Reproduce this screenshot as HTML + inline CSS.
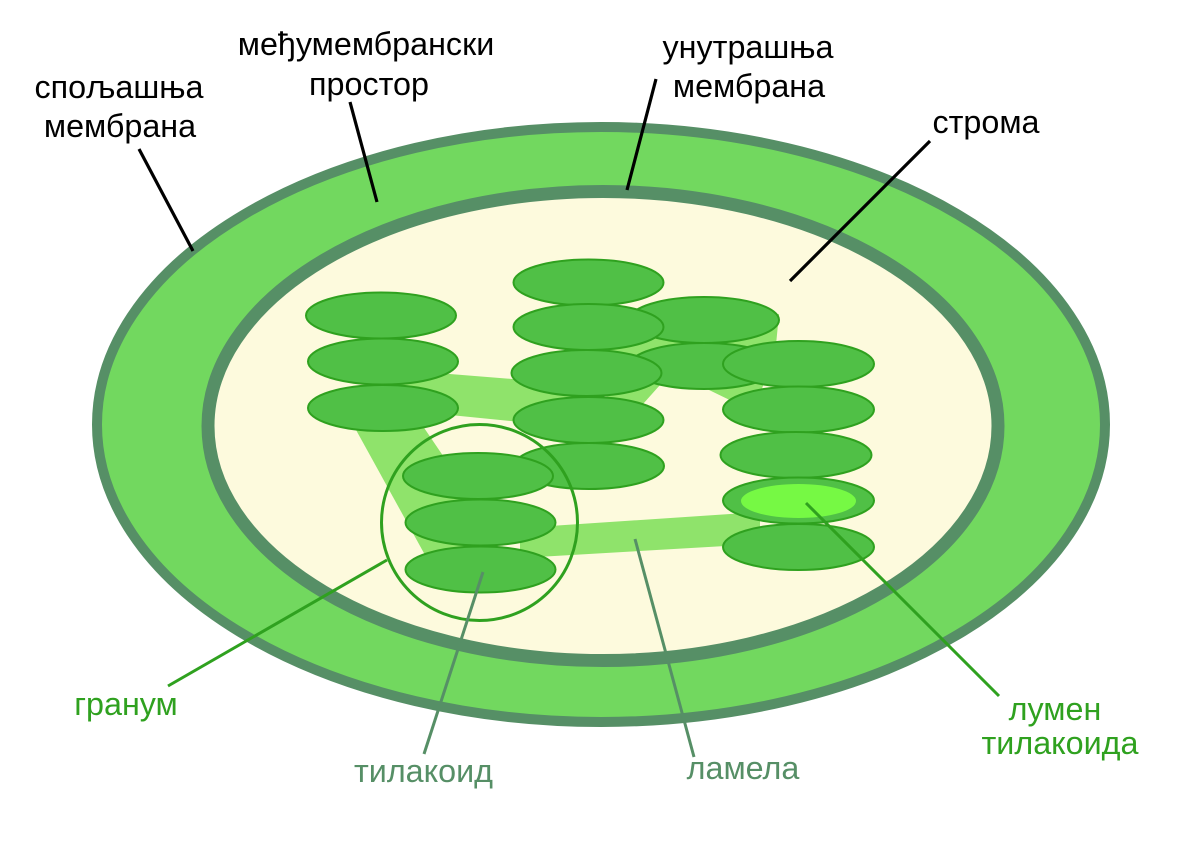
<!DOCTYPE html>
<html><head><meta charset="utf-8"><style>
html,body{margin:0;padding:0;background:#fff;}
svg{display:block;}
text{font-family:"Liberation Sans",Arial,sans-serif;font-size:32.3px;text-anchor:middle;}
</style></head><body>
<svg width="1200" height="849" viewBox="0 0 1200 849" xmlns="http://www.w3.org/2000/svg">
<rect width="1200" height="849" fill="#fff"/>
<!-- outer membrane -->
<ellipse cx="601" cy="424.5" rx="504" ry="297.5" fill="#72d85f" stroke="#568f66" stroke-width="10"/>
<!-- inner membrane / stroma -->
<ellipse cx="603" cy="426" rx="395" ry="234.5" fill="#fdfadd" stroke="#568f66" stroke-width="13"/>

<!-- lamellae -->
<g fill="#8fe36b">
<polygon points="400,370 600,386 600,430 400,410"/>
<polygon points="345,410 412,410 500,540 425,555"/>
<polygon points="520,528 760,512 760,544 520,558"/>
<polygon points="590,380 620,333 779,314 776,345 760,395 742,406 707,389 690,385 660,385 643,404 630,420"/>
</g>

<g fill="#50c046" stroke="#2fa11f" stroke-width="2">
<!-- stack 3 (behind) -->
<ellipse cx="704" cy="320" rx="75" ry="23"/>
<ellipse cx="704" cy="366" rx="75" ry="23"/>
<!-- stack 1 -->
<ellipse cx="381" cy="315.5" rx="75" ry="23"/>
<ellipse cx="383" cy="361.5" rx="75" ry="23"/>
<ellipse cx="383" cy="408" rx="75" ry="23"/>
<!-- stack 2 -->
<ellipse cx="588.5" cy="282.5" rx="75" ry="23"/>
<ellipse cx="588.5" cy="327" rx="75" ry="23"/>
<ellipse cx="586.5" cy="373" rx="75" ry="23"/>
<ellipse cx="588.5" cy="420" rx="75" ry="23"/>
<ellipse cx="589" cy="466" rx="75" ry="23"/>
<!-- stack 4 -->
<ellipse cx="798.5" cy="364" rx="75.5" ry="23"/>
<ellipse cx="798.5" cy="409.5" rx="75.5" ry="23"/>
<ellipse cx="796" cy="455" rx="75.5" ry="23"/>
<ellipse cx="798.5" cy="500.5" rx="75.5" ry="23"/>
<ellipse cx="798.5" cy="547" rx="75.5" ry="23"/>
<!-- circled stack -->
<ellipse cx="478" cy="476" rx="75" ry="23"/>
<ellipse cx="480.5" cy="522.5" rx="75" ry="23"/>
<ellipse cx="480.5" cy="569.5" rx="75" ry="23"/>
</g>
<!-- lumen -->
<ellipse cx="798.5" cy="501" rx="57.5" ry="17" fill="#76f944"/>

<!-- granum circle -->
<circle cx="479.5" cy="522.5" r="98" fill="none" stroke="#2fa11f" stroke-width="3"/>

<!-- black pointer lines -->
<g stroke="#000" stroke-width="3.2" fill="none">
<line x1="139" y1="149" x2="193" y2="251"/>
<line x1="350" y1="102" x2="377" y2="202"/>
<line x1="656" y1="79" x2="627" y2="190"/>
<line x1="930" y1="141" x2="790" y2="281"/>
</g>
<!-- green lines -->
<g stroke="#2fa11f" stroke-width="3" fill="none">
<line x1="168" y1="686" x2="387" y2="560"/>
<line x1="999" y1="696" x2="806" y2="503"/>
</g>
<!-- grey-green lines -->
<g stroke="#568f66" stroke-width="3" fill="none">
<line x1="424" y1="754" x2="483" y2="572"/>
<line x1="694" y1="757" x2="635" y2="539"/>
</g>

<!-- labels -->
<g fill="#000">
<text x="119" y="98">спољашња</text>
<text x="120" y="137">мембрана</text>
<text x="366" y="55">међумембрански</text>
<text x="369" y="95">простор</text>
<text x="748" y="58">унутрашња</text>
<text x="749" y="97">мембрана</text>
<text x="986" y="133">строма</text>
</g>
<g fill="#2fa11f">
<text x="126" y="715">гранум</text>
<text x="1055" y="720">лумен</text>
<text x="1060" y="754">тилакоида</text>
</g>
<g fill="#568f66">
<text x="423.5" y="782">тилакоид</text>
<text x="743" y="779">ламела</text>
</g>
</svg>
</body></html>
